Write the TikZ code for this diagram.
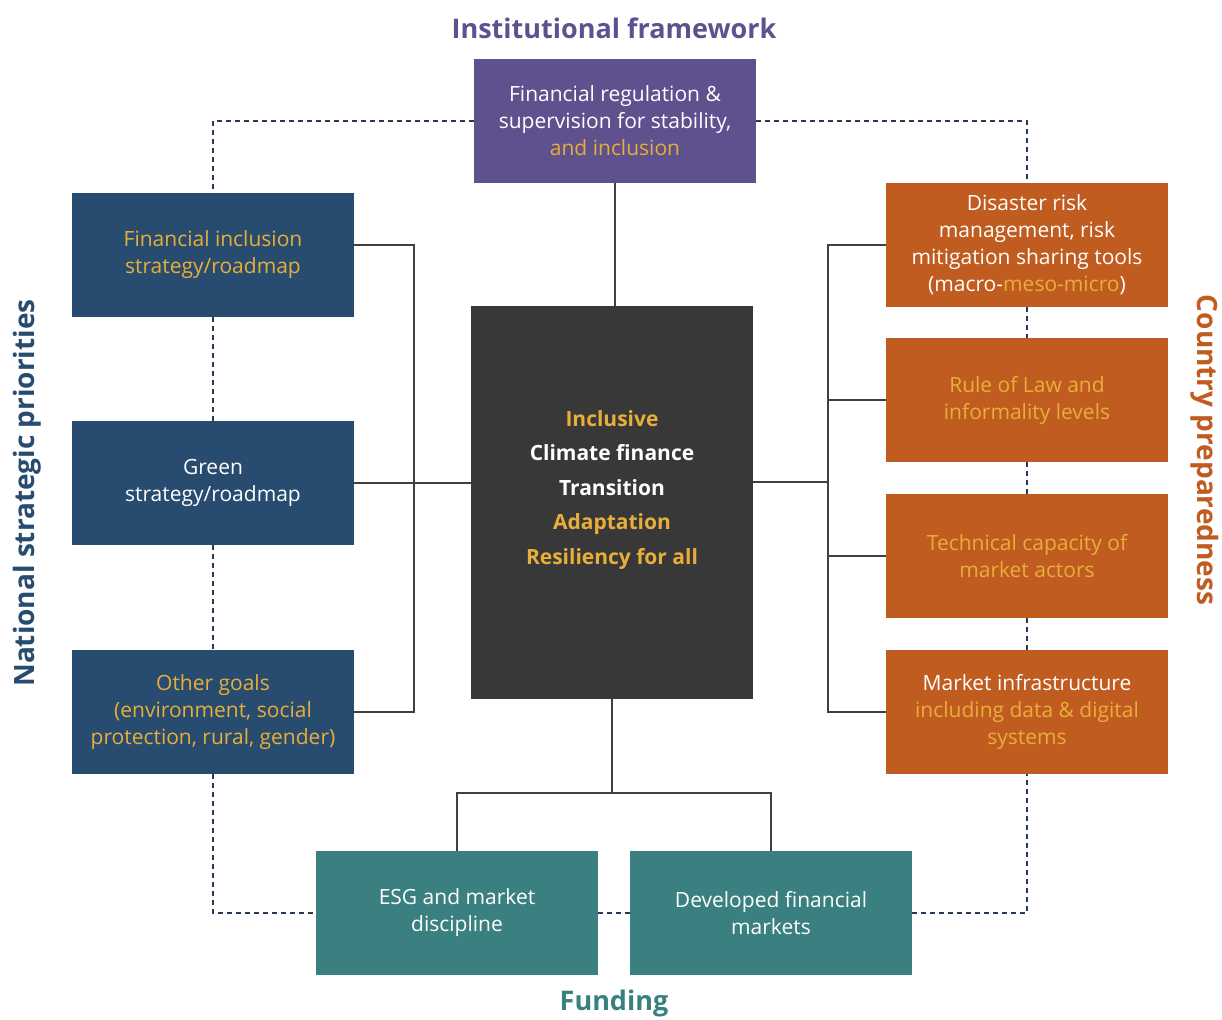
\documentclass[tikz,border=0pt]{standalone}
\usepackage{fontspec}
\setmainfont{Open Sans}
\definecolor{purp}{HTML}{5F518E}
\definecolor{navy}{HTML}{284C6F}
\definecolor{rust}{HTML}{C05C20}
\definecolor{sea}{HTML}{3A8080}
\definecolor{coal}{HTML}{383838}
\definecolor{gold}{HTML}{E8AE3A}
\definecolor{wire}{HTML}{404040}
\definecolor{dotcol}{HTML}{253A55}
\begin{document}
\begin{tikzpicture}[x=1pt, y=-1pt,
  box/.style={minimum width=282pt, minimum height=124pt, inner sep=0pt, align=center, text=white, font=\fontsize{21}{27}\selectfont},
  head/.style={font=\bfseries\fontsize{27}{30}\selectfont},
  side/.style={font=\bfseries\fontsize{28}{30}\selectfont},
  link/.style={draw=wire, line width=2.5pt},
  dashline/.style={draw=dotcol, line width=2.8pt, dash pattern=on 5pt off 4pt}]
\useasboundingbox (0,0) rectangle (1222,1019);
\node(tinst) at (614,28)[head, text=purp]{Institutional framework};
\node(tfund) at (614,1003)[head, text=sea]{Funding};
\node(tnat) at (27,493)[side, rotate=90, text=navy]{National strategic priorities};
\node(tcty) at (1205,450)[side, rotate=-90, text=rust]{Country preparedness};
\node(reg) at (615,121)[box, fill=purp]{Financial regulation \&\\supervision for stability,\\\textcolor{gold}{and inclusion}};
\node(fin) at (213,255)[box, fill=navy, text=gold]{Financial inclusion\\strategy/roadmap};
\node(grn) at (213,483)[box, fill=navy]{Green\\strategy/roadmap};
\node(oth) at (213,712)[box, fill=navy, text=gold]{Other goals\\(environment, social\\protection, rural, gender)};
\node(core) at (612,502.5)[box, minimum height=393pt, fill=coal]{};
\node(coretxt) at (612,490)[align=center, text=white, font=\bfseries\fontsize{21}{34.5}\selectfont]{\textcolor{gold}{Inclusive}\\Climate finance\\Transition\\\textcolor{gold}{Adaptation}\\\textcolor{gold}{Resiliency for all}};
\node(dis) at (1027,245)[box, fill=rust]{Disaster risk\\management, risk\\mitigation sharing tools\\(macro-\textcolor{gold}{meso-micro})};
\node(rul) at (1027,400)[box, fill=rust, text=gold]{Rule of Law and\\informality levels};
\node(tec) at (1027,556)[box, fill=rust, text=gold]{Technical capacity of\\market actors};
\node(mkt) at (1027,712)[box, fill=rust]{Market infrastructure\\\textcolor{gold}{including data \& digital}\\\textcolor{gold}{systems}};
\node(esg) at (457,913)[box, fill=sea]{ESG and market\\discipline};
\node(dev) at (771,913)[box, fill=sea]{Developed financial\\markets};
\coordinate(ljoin) at (414,482);
\coordinate(rjoin) at (828,482);
\coordinate(bjoin) at (612,793);
% solid links
\draw[link]([yshift=10pt]fin.east) -| (ljoin) |- (oth.east);
\draw[link](grn.east) -- (grn.east -| core.west);
\draw[link](dis.west) -| (rjoin) |- (mkt.west);
\draw[link](rul.west) -- (rul.west -| rjoin);
\draw[link](tec.west) -- (tec.west -| rjoin);
\draw[link](core.east |- rjoin) -- (rjoin);
\draw[link](reg.south) -- (reg.south |- core.north);
\draw[link](core.south) -- (bjoin);
\draw[link](esg.north) |- (bjoin) -| (dev.north);
% dotted links
\draw[dashline](reg.west) -| (fin.north);
\draw[dashline](reg.east) -| (dis.north);
\draw[dashline](fin) -- (grn);
\draw[dashline](grn) -- (oth);
\draw[dashline](oth.south) |- (esg.west);
\draw[dashline](esg) -- (dev);
\draw[dashline](dev.east) -| (mkt.south);
\draw[dashline](dis) -- (rul);
\draw[dashline](rul) -- (tec);
\draw[dashline](tec) -- (mkt);
\end{tikzpicture}
\end{document}
